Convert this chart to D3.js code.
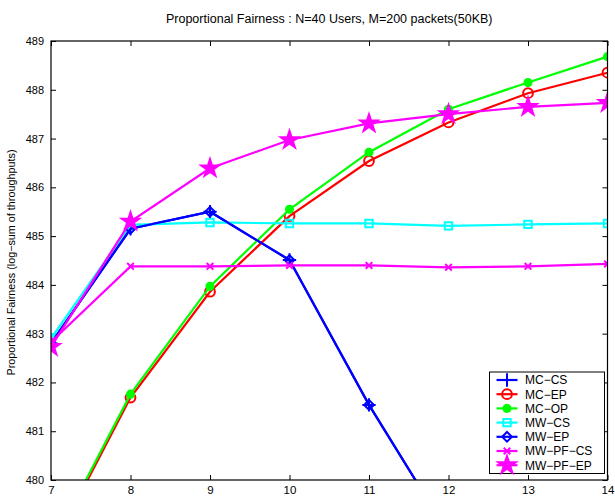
<!DOCTYPE html>
<html>
<head>
<meta charset="utf-8">
<script src="https://cdn.jsdelivr.net/npm/d3@7"></script>
<style>
  body { margin: 0; background: #fff; }
  text { font-family: "Liberation Sans", Arial, sans-serif; }
</style>
</head>
<body>
<div id="chart"></div>
<script>
const WIDTH = 615;
const HEIGHT = 498;

// data
const users = [7, 8, 9, 10, 11, 12, 13, 14];
const seriesNames = ["MC\u2212CS", "MC\u2212EP", "MC\u2212OP", "MW\u2212CS", "MW\u2212EP", "MW\u2212PF\u2212CS", "MW\u2212PF\u2212EP"];
const mcCS   = [482.80, 485.15, 485.50, 484.51, 481.54, 478.90, 477.50, 476.50];
const mcEP   = [478.56, 481.69, 483.86, 485.41, 486.54, 487.33, 487.93, 488.35];
const mcOP   = [478.62, 481.76, 483.97, 485.55, 486.72, 487.60, 488.15, 488.68];
const mwCS   = [482.90, 485.23, 485.28, 485.26, 485.26, 485.21, 485.24, 485.26];
const mwEP   = [482.80, 485.15, 485.50, 484.51, 481.54, 478.90, 477.50, 476.50];
const mwPFCS = [482.83, 484.38, 484.38, 484.40, 484.40, 484.36, 484.38, 484.43];
const mwPFEP = [482.73, 485.30, 486.39, 486.97, 487.31, 487.50, 487.65, 487.73];
const yTicks = [480, 481, 482, 483, 484, 485, 486, 487, 488, 489];

const seriesValues = [mcCS, mcEP, mcOP, mwCS, mwEP, mwPFCS, mwPFEP];
const colors = ["#0000ff", "#ff0000", "#00ff00", "#00ffff", "#0000ff", "#ff00ff", "#ff00ff"];
const markers = [
    {type: d3.symbolPlus, size: 60, fill: false},
    {type: d3.symbolCircle, size: 75, fill: false},
    {type: d3.symbolCircle, size: 40, fill: true},
    {type: d3.symbolSquare, size: 55, fill: false},
    {type: d3.symbolDiamond2, size: 60, fill: false},
    {type: d3.symbolTimes, size: 30, fill: false},
    {type: d3.symbolStar, size: 95, fill: true}
];

const PLOT_L = 51, PLOT_R = 607.5, PLOT_T = 41, PLOT_B = 480;

let svg = d3.select("#chart")
    .append("svg")
    .attr("width", WIDTH)
    .attr("height", HEIGHT);

let x = d3.scaleLinear().domain([7, 14]).range([PLOT_L, PLOT_R]);
let y = d3.scaleLinear().domain([480, 489]).range([PLOT_B, PLOT_T]);

svg.append("clipPath")
    .attr("id", "plot-clip")
    .append("rect")
    .attr("x", PLOT_L)
    .attr("y", PLOT_T)
    .attr("width", PLOT_R - PLOT_L)
    .attr("height", PLOT_B - PLOT_T);

// axes, ticks pointing inward like matlab
let xAxis = svg.append("g")
    .attr("transform", `translate(0,${PLOT_B})`)
    .call(d3.axisBottom(x).tickValues(users).tickFormat(d3.format("d")).tickSizeInner(-5).tickSizeOuter(0).tickPadding(6));
svg.append("g")
    .attr("transform", `translate(0,${PLOT_T})`)
    .call(d3.axisTop(x).tickValues(users).tickFormat("").tickSizeInner(-5).tickSizeOuter(0));
let yAxis = svg.append("g")
    .attr("transform", `translate(${PLOT_L},0)`)
    .call(d3.axisLeft(y).tickValues(yTicks).tickFormat(d3.format("d")).tickSizeInner(-5).tickSizeOuter(0).tickPadding(7));
svg.append("g")
    .attr("transform", `translate(${PLOT_R},0)`)
    .call(d3.axisRight(y).tickValues(yTicks).tickFormat("").tickSizeInner(-5).tickSizeOuter(0));

svg.selectAll(".domain").remove();
svg.selectAll(".tick line").attr("stroke", "#000").attr("stroke-width", 1);
xAxis.selectAll("text").style("font-size", "11.5px").attr("fill", "#000");
yAxis.selectAll("text").style("font-size", "11px").attr("fill", "#000");

let plot = svg.append("g").attr("clip-path", "url(#plot-clip)");

let line = d3.line()
    .x((d, i) => x(users[i]))
    .y(d => y(d));

seriesValues.forEach((vals, k) => {
    plot.append("path")
        .attr("d", line(vals))
        .attr("fill", "none")
        .attr("stroke", colors[k])
        .attr("stroke-width", 2.2);

    let m = markers[k];
    plot.selectAll(null)
        .data(vals)
        .enter()
        .append("path")
        .attr("transform", (d, i) => `translate(${x(users[i])},${y(d)})`)
        .attr("d", d3.symbol().type(m.type).size(m.size))
        .attr("fill", m.fill ? colors[k] : "none")
        .attr("stroke", colors[k])
        .attr("stroke-width", 2);
});

svg.append("rect")
    .attr("x", PLOT_L)
    .attr("y", PLOT_T)
    .attr("width", PLOT_R - PLOT_L)
    .attr("height", PLOT_B - PLOT_T)
    .attr("fill", "none")
    .attr("stroke", "#000")
    .attr("stroke-width", 1.2);

// title and y label
svg.append("text")
    .attr("x", (PLOT_L + PLOT_R) / 2)
    .attr("y", 23)
    .attr("text-anchor", "middle")
    .style("font-size", "12.5px")
    .text("Proportional Fairness : N=40 Users, M=200 packets(50KB)");

svg.append("text")
    .attr("transform", `translate(15,${(PLOT_T + PLOT_B) / 2 + 2}) rotate(-90)`)
    .attr("text-anchor", "middle")
    .style("font-size", "10.8px")
    .text("Proportional Fairness (log\u2212sum of throughputs)");

// legend
let legend = svg.append("g").attr("class", "legend");
legend.append("rect")
    .attr("x", 489.5)
    .attr("y", 372)
    .attr("width", 115)
    .attr("height", 101.5)
    .attr("fill", "#fff")
    .attr("stroke", "#000")
    .attr("stroke-width", 1);

seriesNames.forEach((name, k) => {
    let ly = 380 + k * 14.2;
    legend.append("line")
        .attr("x1", 496.5).attr("x2", 517.5)
        .attr("y1", ly).attr("y2", ly)
        .attr("stroke", colors[k])
        .attr("stroke-width", 2.2);
    let m = markers[k];
    legend.append("path")
        .attr("transform", `translate(507,${ly})`)
        .attr("d", d3.symbol().type(m.type).size(m.size))
        .attr("fill", m.fill ? colors[k] : "none")
        .attr("stroke", colors[k])
        .attr("stroke-width", 2);
    legend.append("text")
        .attr("x", 525)
        .attr("y", ly)
        .attr("dy", "0.36em")
        .style("font-size", "12px")
        .text(name);
});
</script>
</body>
</html>
